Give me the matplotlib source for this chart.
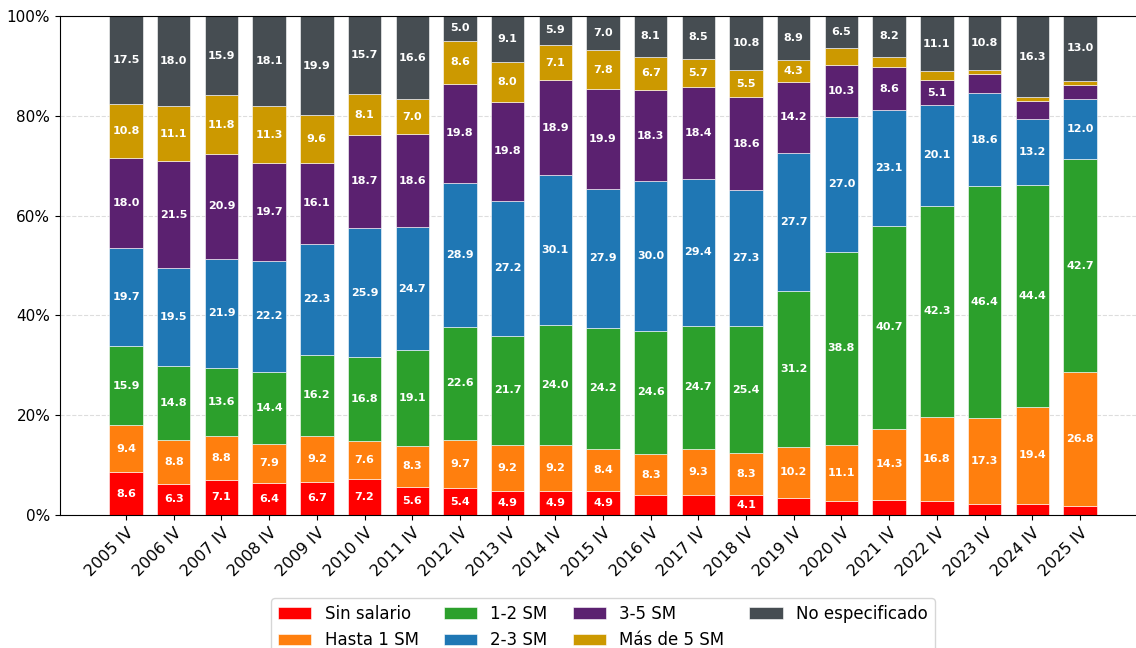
import matplotlib
matplotlib.use("Agg")
import matplotlib.pyplot as plt
import numpy as np

periods = ["2005 IV", "2006 IV", "2007 IV", "2008 IV", "2009 IV", "2010 IV", "2011 IV",
           "2012 IV", "2013 IV", "2014 IV", "2015 IV", "2016 IV", "2017 IV", "2018 IV",
           "2019 IV", "2020 IV", "2021 IV", "2022 IV", "2023 IV", "2024 IV", "2025 IV"]

sin_salario = [8.6, 6.3, 7.1, 6.4, 6.7, 7.2, 5.6, 5.4, 4.9, 4.9, 4.9, 3.96, 3.97, 4.1,
               3.5, 2.9, 3.0, 2.9, 2.2, 2.3, 1.8]
hasta_1 = [9.4, 8.8, 8.8, 7.9, 9.2, 7.6, 8.3, 9.7, 9.2, 9.2, 8.4, 8.3, 9.3, 8.3,
           10.2, 11.1, 14.3, 16.8, 17.3, 19.4, 26.8]
sm_1_2 = [15.9, 14.8, 13.6, 14.4, 16.2, 16.8, 19.1, 22.6, 21.7, 24.0, 24.2, 24.6, 24.7, 25.4,
          31.2, 38.8, 40.7, 42.3, 46.4, 44.4, 42.7]
sm_2_3 = [19.7, 19.5, 21.9, 22.2, 22.3, 25.9, 24.7, 28.9, 27.2, 30.1, 27.9, 30.0, 29.4, 27.3,
          27.7, 27.0, 23.1, 20.1, 18.6, 13.2, 12.0]
sm_3_5 = [18.0, 21.5, 20.9, 19.7, 16.1, 18.7, 18.6, 19.8, 19.8, 18.9, 19.9, 18.3, 18.4, 18.6,
          14.2, 10.3, 8.6, 5.1, 3.9, 3.6, 2.9]
mas_5 = [10.8, 11.1, 11.8, 11.3, 9.6, 8.1, 7.0, 8.6, 8.0, 7.1, 7.8, 6.7, 5.7, 5.5,
         4.3, 3.4, 2.1, 1.7, 0.8, 0.8, 0.8]
no_esp = [17.5, 18.0, 15.9, 18.1, 19.9, 15.7, 16.6, 5.0, 9.1, 5.9, 7.0, 8.1, 8.5, 10.8,
          8.9, 6.5, 8.2, 11.1, 10.8, 16.3, 13.0]

series = [
    ("Sin salario", sin_salario, "#FF0000"),
    ("Hasta 1 SM", hasta_1, "#FF7F0E"),
    ("1-2 SM", sm_1_2, "#2CA02C"),
    ("2-3 SM", sm_2_3, "#1F77B4"),
    ("3-5 SM", sm_3_5, "#5B2170"),
    ("Más de 5 SM", mas_5, "#CC9900"),
    ("No especificado", no_esp, "#464D52"),
]

fig = plt.figure(figsize=(11.36, 6.48), dpi=100)
ax = fig.add_axes([60/1136, 133/648, 1086/1136, 499/648])

x = np.arange(len(periods))
bottom = np.zeros(len(periods))
for name, vals, color in series:
    vals = np.array(vals, dtype=float)
    ax.bar(x, vals, 0.7, bottom=bottom, color=color, label=name,
           edgecolor="white", linewidth=0.4, zorder=2)
    for xi, b, v in zip(x, bottom, vals):
        if v >= 4.0:
            ax.text(xi, b + v / 2, f"{v:.1f}", ha="center", va="center",
                    color="white", fontsize=8, fontweight="bold", zorder=3)
    bottom += vals

ax.set_ylim(0, 100)
ax.set_yticks([0, 20, 40, 60, 80, 100])
ax.set_yticklabels([f"{v}%" for v in [0, 20, 40, 60, 80, 100]], fontsize=11)
ax.set_xticks(x)
ax.set_xticklabels(periods, rotation=45, ha="right", rotation_mode="anchor", fontsize=11.5)
ax.yaxis.grid(True, linestyle="--", color="#dddddd", linewidth=0.8, zorder=0)
ax.set_axisbelow(True)

ax.legend(loc="upper center", bbox_to_anchor=(0.5, -0.15), ncol=4, fontsize=12,
          frameon=True, handlelength=2.0, columnspacing=1.5)

fig.savefig("out.png", dpi=100)
